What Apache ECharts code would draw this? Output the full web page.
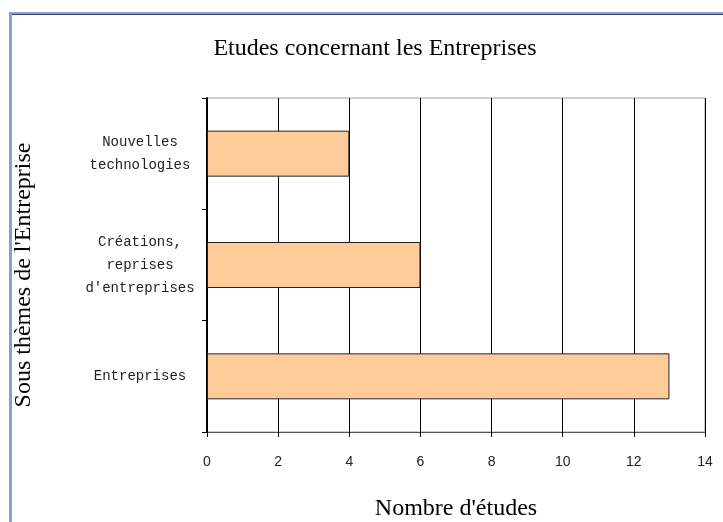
<!DOCTYPE html>
<html>
<head>
<meta charset="utf-8">
<script src="https://cdn.jsdelivr.net/npm/echarts@6/dist/echarts.min.js"></script>
<style>html,body{margin:0;padding:0;background:#fff;overflow:hidden}#c{width:723px;height:522px}</style>
</head>
<body>
<div id="c"></div>
<script>
const categories = ['Entreprises', "Créations,\nreprises\nd'entreprises", 'Nouvelles\ntechnologies'];
const values = [13, 6, 4];
const xMin = 0, xMax = 14, xStep = 2;
const titleText = 'Etudes concernant les Entreprises';
const xName = "Nombre d'études";
const yName = "Sous thèmes de l'Entreprise";

const chart = echarts.init(document.getElementById('c'), null, {renderer: 'canvas', width: 723, height: 522});
chart.setOption({
  animation: false,
  backgroundColor: '#fff',
  title: {
    text: titleText,
    left: 370, top: 32, textAlign: 'center',
    textStyle: {fontFamily: 'Liberation Serif', fontSize: 24, fontWeight: 'normal', color: '#000'}
  },
  graphic: [
    {type: 'line', shape: {x1: 10, y1: 13, x2: 723, y2: 13}, style: {stroke: '#8d9bd8', lineWidth: 2}},
    {type: 'line', shape: {x1: 11, y1: 14.5, x2: 723, y2: 14.5}, style: {stroke: '#3a4060', lineWidth: 1}},
    {type: 'line', shape: {x1: 10.5, y1: 12, x2: 10.5, y2: 522}, style: {stroke: '#8d9bd8', lineWidth: 3}}
  ],
  grid: {left: 207, top: 98, right: 18, bottom: 90, outerBoundsMode: 'none', show: true, borderColor: '#999', borderWidth: 1, containLabel: false},
  xAxis: {
    type: 'value', min: xMin, max: xMax, interval: xStep,
    name: xName, nameLocation: 'middle', nameGap: 65,
    nameTextStyle: {fontFamily: 'Liberation Serif', fontSize: 24, color: '#000'},
    axisLine: {show: true, lineStyle: {color: '#555', width: 1}},
    axisTick: {show: true, length: 5, lineStyle: {color: '#000'}},
    axisLabel: {margin: 23, fontFamily: 'Liberation Sans', fontSize: 14, color: '#222'},
    splitLine: {show: true, lineStyle: {color: '#000', width: 1}}
  },
  yAxis: {
    type: 'category', data: categories,
    name: yName, nameLocation: 'middle', nameGap: 171, nameRotate: 90,
    nameTextStyle: {fontFamily: 'Liberation Serif', fontSize: 24, color: '#000', padding: [0, 20, 0, 0]},
    axisLine: {show: true, lineStyle: {color: '#000', width: 2}},
    axisTick: {show: true, length: 5, lineStyle: {color: '#000'}},
    axisLabel: {margin: 67, align: 'center', fontFamily: 'Liberation Mono', fontSize: 14, lineHeight: 23, color: '#222', padding: [6, 0, 0, 0]},
    splitLine: {show: false}
  },
  series: [{
    type: 'bar', data: values, barWidth: 46,
    itemStyle: {color: '#ffcc99', borderColor: '#222', borderWidth: 1}
  }]
});
</script>
</body>
</html>
